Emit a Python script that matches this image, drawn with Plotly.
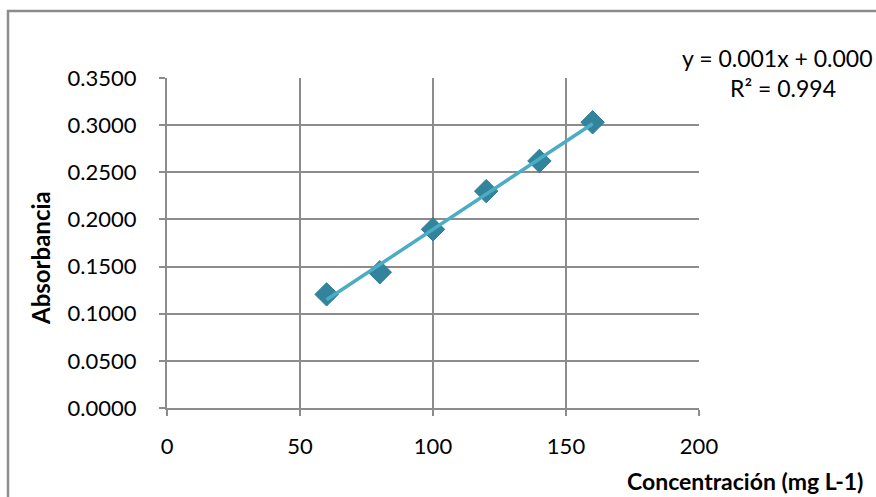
import numpy as np
import plotly.graph_objects as go

concentracion = [60, 80, 100, 120, 140, 160]
absorbancia = [0.1205, 0.1440, 0.1895, 0.2300, 0.2620, 0.3030]
x_ticks = [0, 50, 100, 150, 200]
y_ticks = [0.0, 0.05, 0.10, 0.15, 0.20, 0.25, 0.30, 0.35]
equation_text = "y = 0.001x + 0.000"
r2_text = "R² = 0.994"

slope, intercept = np.polyfit(concentracion, absorbancia, 1)
fit_x = [min(concentracion), max(concentracion)]
fit_y = [slope * v + intercept for v in fit_x]

FONT = "Lato, Carlito, Calibri, sans-serif"
GRID = "#8c8c8c"

fig = go.Figure()
fig.add_trace(go.Scatter(
    x=concentracion, y=absorbancia, mode="markers",
    marker=dict(symbol="diamond", size=18, color="#31849B",
                line=dict(color="#2f7d93", width=1)),
    showlegend=False))
fig.add_trace(go.Scatter(
    x=fit_x, y=fit_y, mode="lines",
    line=dict(color="#4BACC6", width=3.5), showlegend=False))


def px(xp):
    return (xp - 167) / 532


def py(yp):
    return (408 - yp) / 330


fig.update_layout(
    width=876, height=497,
    margin=dict(l=167, r=177, t=78, b=89),
    paper_bgcolor="white", plot_bgcolor="white",
    font=dict(family=FONT, size=22, color="#000000"),
    xaxis=dict(range=[0, 200], tickvals=x_ticks, showgrid=True,
               gridcolor=GRID, gridwidth=2, showline=True, linecolor=GRID,
               linewidth=2, ticks="outside", ticklen=6, tickcolor=GRID,
               tickwidth=2, ticklabelstandoff=12, zeroline=False,
               tickfont=dict(size=22)),
    yaxis=dict(range=[0, 0.35], tickvals=y_ticks, tickformat=".4f",
               showgrid=True, gridcolor=GRID, gridwidth=2, showline=True,
               linecolor=GRID, linewidth=2, ticks="outside", ticklen=6,
               tickcolor=GRID, tickwidth=2, ticklabelstandoff=18,
               zeroline=False, tickfont=dict(size=22)),
    shapes=[dict(type="rect", xref="paper", yref="paper",
                 x0=px(8), x1=1.5, y0=-0.4, y1=py(11),
                 line=dict(color="#8c8c8c", width=2.5), layer="below")],
    annotations=[
        dict(text=equation_text, xref="paper", yref="paper", x=px(680),
             y=py(58), showarrow=False, xanchor="left", yanchor="middle",
             font=dict(size=23, family=FONT)),
        dict(text=r2_text, xref="paper", yref="paper", x=px(728),
             y=py(88), showarrow=False, xanchor="left", yanchor="middle",
             font=dict(size=23, family=FONT)),
        dict(text="<b>Absorbancia</b>", xref="paper", yref="paper",
             x=px(40), y=py(258), showarrow=False,
             textangle=-90, xanchor="center", yanchor="middle",
             font=dict(size=24, family=FONT)),
        dict(text="<b>Concentración (mg L-1)</b>", xref="paper", yref="paper",
             x=px(745), y=py(481), showarrow=False,
             xanchor="center", yanchor="middle",
             font=dict(size=23, family=FONT)),
    ],
)

fig.write_html(
    "out.html",
    config={"displayModeBar": False},
    post_script="document.body.style.margin='0';document.body.style.overflow='hidden';",
)
